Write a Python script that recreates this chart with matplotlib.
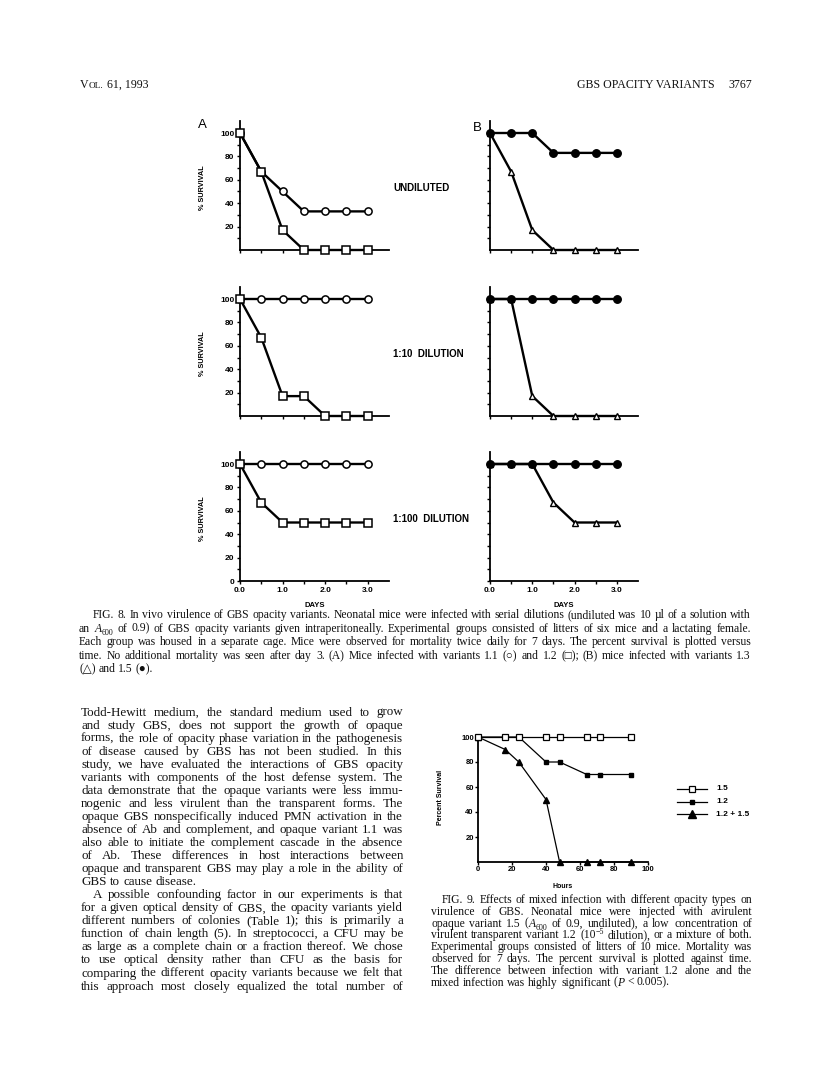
import re
import matplotlib
matplotlib.use('Agg')
import matplotlib.pyplot as plt
from matplotlib.font_manager import FontProperties
from matplotlib.ticker import FixedLocator, NullFormatter
from matplotlib.lines import Line2D

W, H = 816, 1078

# ---------------- data ----------------
days = [0.0, 0.5, 1.0, 1.5, 2.0, 2.5, 3.0]
dilution_labels = ['UNDILUTED', '1:10  DILUTION', '1:100  DILUTION']
a_var11 = [[100, 67, 50, 33, 33, 33, 33],
           [100, 100, 100, 100, 100, 100, 100],
           [100, 100, 100, 100, 100, 100, 100]]
a_var12 = [[100, 67, 17, 0, 0, 0, 0],
           [100, 67, 17, 17, 0, 0, 0],
           [100, 67, 50, 50, 50, 50, 50]]
b_var15 = [[100, 100, 100, 83, 83, 83, 83],
           [100, 100, 100, 100, 100, 100, 100],
           [100, 100, 100, 100, 100, 100, 100]]
b_var13 = [[100, 67, 17, 0, 0, 0, 0],
           [100, 100, 17, 0, 0, 0, 0],
           [100, 100, 100, 67, 50, 50, 50]]
day_ticks = [0.0, 1.0, 2.0, 3.0]
day_tick_labels = ['0.0', '1.0', '2.0', '3.0']

hours = [0, 16, 24, 40, 48, 64, 72, 90]
f9_v15 = [100, 100, 100, 100, 100, 100, 100, 100]
f9_v12 = [100, 100, 100, 80, 80, 70, 70, 70]
f9_mix = [100, 90, 80, 50, 0, 0, 0, 0]
f9_series_names = ['1.5', '1.2', '1.2 + 1.5']
f9_xticks = [0, 20, 40, 60, 80, 100]
f9_yticks = [20, 40, 60, 80, 100]

header_left = ('V', 'OL.', ' 61, 1993')
header_title = 'GBS OPACITY VARIANTS'
header_page = '3767'

# markup inside words: {i:..} italic, {sub:..} subscript, {sup:..} superscript
fig8_caption = [
    ("FIG. 8. In vivo virulence of GBS opacity variants. Neonatal mice were infected with serial dilutions (undiluted was 10 µl of a solution with", True, 14),
    ("an {i:A}{sub:600} of 0.9) of GBS opacity variants given intraperitoneally. Experimental groups consisted of litters of six mice and a lactating female.", True, 0),
    ("Each group was housed in a separate cage. Mice were observed for mortality twice daily for 7 days. The percent survival is plotted versus", True, 0),
    ("time. No additional mortality was seen after day 3. (A) Mice infected with variants 1.1 (○) and 1.2 (□); (B) mice infected with variants 1.3", True, 0),
    ("(△) and 1.5 (●).", False, 0),
]

body_text = [
    ("Todd-Hewitt medium, the standard medium used to grow", True, 0),
    ("and study GBS, does not support the growth of opaque", True, 0),
    ("forms, the role of opacity phase variation in the pathogenesis", True, 0),
    ("of disease caused by GBS has not been studied. In this", True, 0),
    ("study, we have evaluated the interactions of GBS opacity", True, 0),
    ("variants with components of the host defense system. The", True, 0),
    ("data demonstrate that the opaque variants were less immu-", True, 0),
    ("nogenic and less virulent than the transparent forms. The", True, 0),
    ("opaque GBS nonspecifically induced PMN activation in the", True, 0),
    ("absence of Ab and complement, and opaque variant 1.1 was", True, 0),
    ("also able to initiate the complement cascade in the absence", True, 0),
    ("of Ab. These differences in host interactions between", True, 0),
    ("opaque and transparent GBS may play a role in the ability of", True, 0),
    ("GBS to cause disease.", False, 0),
    ("A possible confounding factor in our experiments is that", True, 12),
    ("for a given optical density of GBS, the opacity variants yield", True, 0),
    ("different numbers of colonies (Table 1); this is primarily a", True, 0),
    ("function of chain length (5). In streptococci, a CFU may be", True, 0),
    ("as large as a complete chain or a fraction thereof. We chose", True, 0),
    ("to use optical density rather than CFU as the basis for", True, 0),
    ("comparing the different opacity variants because we felt that", True, 0),
    ("this approach most closely equalized the total number of", True, 0),
]

fig9_caption = [
    ("FIG. 9. Effects of mixed infection with different opacity types on", True, 11),
    ("virulence of GBS. Neonatal mice were injected with avirulent", True, 0),
    ("opaque variant 1.5 ({i:A}{sub:600} of 0.9, undiluted), a low concentration of", True, 0),
    ("virulent transparent variant 1.2 (10{sup:−5} dilution), or a mixture of both.", True, 0),
    ("Experimental groups consisted of litters of 10 mice. Mortality was", True, 0),
    ("observed for 7 days. The percent survival is plotted against time.", True, 0),
    ("The difference between infection with variant 1.2 alone and the", True, 0),
    ("mixed infection was highly significant ({i:P} < 0.005).", False, 0),
]

# ---------------- figure ----------------
fig = plt.figure(figsize=(W / 100, H / 100), dpi=100)
fig.patch.set_facecolor('white')
ov = fig.add_axes([0, 0, 1, 1])
ov.set_xlim(0, W)
ov.set_ylim(H, 0)
ov.axis('off')
ov.patch.set_alpha(0)

renderer = fig.canvas.get_renderer()
SERIF = ['Liberation Serif', 'DejaVu Serif']
SANS = ['Liberation Sans', 'DejaVu Sans']
INK = '#111111'


def measure(s, fp):
    w, h, d = renderer.get_text_width_height_descent(s, fp, ismath=False)
    return w


def segments(word, fs):
    """Split a word into (text, FontProperties, baseline shift in px)."""
    out = []
    for part in re.split(r'(\{[a-z]+:[^}]*\})', word):
        if not part:
            continue
        m = re.match(r'\{([a-z]+):([^}]*)\}', part)
        if m:
            style, txt = m.group(1), m.group(2)
            if style == 'i':
                out.append((txt, FontProperties(family=SERIF, size=fs, style='italic'), 0.0))
            elif style == 'sub':
                out.append((txt, FontProperties(family=SERIF, size=fs * 0.68), fs * 0.35))
            elif style == 'sup':
                out.append((txt, FontProperties(family=SERIF, size=fs * 0.68), -fs * 0.5))
        else:
            out.append((part, FontProperties(family=SERIF, size=fs), 0.0))
    return out


def word_width(word, fs):
    return sum(measure(t, fp) for t, fp, _ in segments(word, fs))


def space_width(fs):
    fp = FontProperties(family=SERIF, size=fs)
    return measure('a a', fp) - measure('aa', fp)


def natural_width(line, fs, indent):
    words = [w for w in line.split(' ') if w]
    return indent + sum(word_width(w, fs) for w in words) + space_width(fs) * (len(words) - 1)


def fit_size(lines, width, fs0=10.0):
    mx = max(natural_width(t, fs0, ind) for t, j, ind in lines if j)
    return fs0 * width / mx * 0.985


def draw_block(lines, x0, x1, y0, step, fs):
    sp = space_width(fs)
    for i, (t, just, ind) in enumerate(lines):
        words = [w for w in t.split(' ') if w]
        ws = [word_width(w, fs) for w in words]
        y = y0 + i * step
        if just and len(words) > 1:
            gap = (x1 - x0 - ind - sum(ws)) / (len(words) - 1)
        else:
            gap = sp
        x = x0 + ind
        for w, wd in zip(words, ws):
            xs = x
            for txt, fp, dy in segments(w, fs):
                ov.text(xs, y + dy, txt, fontproperties=fp, ha='left', va='baseline', color=INK)
                xs += measure(txt, fp)
            x += wd + gap


# ---------------- header ----------------
hfs = 8.6
fph = FontProperties(family=SERIF, size=hfs)
fps = FontProperties(family=SERIF, size=hfs * 0.78)
hx = 80
hy = 88
for part, fp in zip(header_left, (fph, fps, fph)):
    ov.text(hx, hy, part, fontproperties=fp, ha='left', va='baseline', color=INK)
    hx += measure(part, fp) + (0.3 if part == 'V' else 0)
ov.text(752, hy, header_page, fontproperties=fph, ha='right', va='baseline', color=INK)
ov.text(715, hy, header_title, fontproperties=fph, ha='right', va='baseline', color=INK)


# ---------------- FIG 8 panels ----------------
def px_axes(x0, x1, y_bottom, y_top):
    return fig.add_axes([x0 / W, 1 - y_bottom / H, (x1 - x0) / W, (y_bottom - y_top) / H])


tick_fp = dict(family=SANS, size=6, weight='bold')
row_bottoms = [250, 416, 581]
unit = 117 / 100.0
panelA_x = (240, 389)
panelB_x = (490, 638)

for r, yb in enumerate(row_bottoms):
    yt = yb - 110 * unit
    for p, (x0, x1) in enumerate([panelA_x, panelB_x]):
        ax = px_axes(x0, x1, yb, yt)
        ax.set_xlim(0, 3.5)
        ax.set_ylim(0, 110)
        ax.patch.set_alpha(0)
        for s in ('top', 'right'):
            ax.spines[s].set_visible(False)
        for s in ('left', 'bottom'):
            ax.spines[s].set_linewidth(1.3)
        ax.xaxis.set_major_locator(FixedLocator(day_ticks))
        ax.xaxis.set_minor_locator(FixedLocator([0.5, 1.5, 2.5]))
        yt_major = [0, 20, 40, 60, 80, 100] if r == 2 else [20, 40, 60, 80, 100]
        ax.yaxis.set_major_locator(FixedLocator(yt_major))
        ax.yaxis.set_minor_locator(FixedLocator([10, 30, 50, 70, 90]))
        ax.tick_params(axis='both', which='both', direction='out', length=2.5, width=1.0, pad=1.5)
        if p == 0:
            ax.set_yticklabels([str(v) for v in yt_major], fontdict=tick_fp)
        else:
            ax.yaxis.set_major_formatter(NullFormatter())
        if r == 2:
            ax.set_xticklabels(day_tick_labels, fontdict=tick_fp)
            ax.set_xlabel('DAYS', fontdict=dict(family=SANS, size=5.5, weight='bold'), labelpad=6)
        else:
            ax.xaxis.set_major_formatter(NullFormatter())
        if p == 0:
            ax.plot(days, a_var11[r], color='k', lw=1.7, marker='o', ms=5.2, mfc='white',
                    mec='k', mew=1.1, clip_on=False, zorder=3)
            ax.plot(days, a_var12[r], color='k', lw=1.7, marker='s', ms=5.2, mfc='white',
                    mec='k', mew=1.1, clip_on=False, zorder=4)
        else:
            ax.plot(days, b_var13[r], color='k', lw=1.7, marker='^', ms=5.0, mfc='white',
                    mec='k', mew=1.0, clip_on=False, zorder=3)
            ax.plot(days, b_var15[r], color='k', lw=1.7, marker='o', ms=5.4, mfc='k',
                    mec='k', mew=1.0, clip_on=False, zorder=4)
    ov.text(203, yb - 62, '% SURVIVAL', fontproperties=FontProperties(family=SANS, size=5.2, weight='bold'),
            rotation=90, ha='center', va='center')
    ov.text(393, yb - 62, dilution_labels[r], fontproperties=FontProperties(family=SANS, size=7, weight='bold'),
            ha='left', va='center')

ov.text(202, 125, 'A', fontproperties=FontProperties(family=SANS, size=9.5), ha='center', va='center')
ov.text(477, 128, 'B', fontproperties=FontProperties(family=SANS, size=9.5), ha='center', va='center')

# ---------------- FIG 9 ----------------
ax9 = px_axes(478, 648, 862, 737)
ax9.set_xlim(0, 100)
ax9.set_ylim(0, 100)
ax9.patch.set_alpha(0)
for s in ('top', 'right'):
    ax9.spines[s].set_visible(False)
for s in ('left', 'bottom'):
    ax9.spines[s].set_linewidth(1.3)
ax9.xaxis.set_major_locator(FixedLocator(f9_xticks))
ax9.yaxis.set_major_locator(FixedLocator(f9_yticks))
ax9.set_xticklabels([str(v) for v in f9_xticks], fontdict=dict(family=SANS, size=5.5, weight='bold'))
ax9.set_yticklabels([str(v) for v in f9_yticks], fontdict=dict(family=SANS, size=5.5, weight='bold'))
ax9.tick_params(axis='both', direction='out', length=2, width=1.0, pad=1)
ax9.plot(hours, f9_mix, color='k', lw=0.9, marker='^', ms=5.0, mfc='k', mec='k', clip_on=False, zorder=3)
ax9.plot(hours, f9_v12, color='k', lw=0.9, marker='s', ms=3.0, mfc='k', mec='k', clip_on=False, zorder=4)
ax9.plot(hours, f9_v15, color='k', lw=0.9, marker='s', ms=4.3, mfc='white', mec='k', mew=0.9,
         clip_on=False, zorder=5)
ov.text(440, 797, 'Percent Survival', fontproperties=FontProperties(family=SANS, size=5, weight='bold'),
        rotation=90, ha='center', va='center')
ov.text(563, 887, 'Hours', fontproperties=FontProperties(family=SANS, size=5, weight='bold'),
        ha='center', va='center')

leg_styles = [dict(marker='s', ms=5.0, mfc='white', mec='k', mew=0.9),
              dict(marker='s', ms=3.0, mfc='k', mec='k'),
              dict(marker='^', ms=6.0, mfc='k', mec='k')]
for i, (name, st) in enumerate(zip(f9_series_names, leg_styles)):
    ly = 789 + i * 12.5
    ov.add_line(Line2D([677, 707], [ly, ly], color='k', lw=0.9))
    ov.add_line(Line2D([692], [ly], linestyle='none', **st))
    ov.text(716, ly, name, fontproperties=FontProperties(family=SANS, size=6, weight='bold'),
            ha='left', va='center')

# ---------------- text blocks ----------------
fs8 = fit_size(fig8_caption, 751 - 79)
draw_block(fig8_caption, 79, 751, 618, 13.6, fs8)

fsb = fit_size(body_text, 403 - 81)
draw_block(body_text, 81, 403, 715.5, 13.05, fsb)

fs9 = fit_size(fig9_caption, 752 - 431)
draw_block(fig9_caption, 431, 752, 903, 11.8, fs9)

fig.savefig('out.png', dpi=100, facecolor='white')
